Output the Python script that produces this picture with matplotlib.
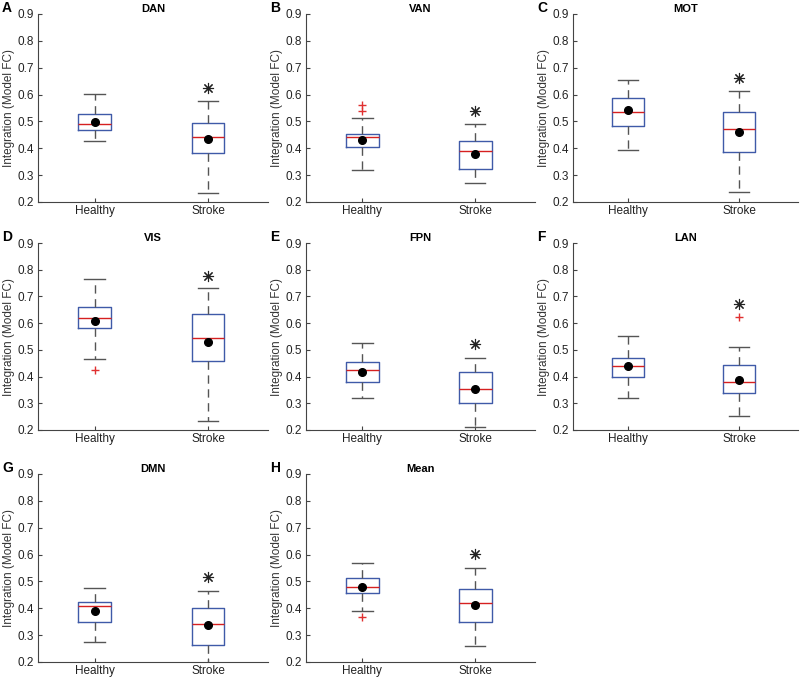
import matplotlib
matplotlib.use("Agg")
import matplotlib.pyplot as plt

plt.rcParams["font.family"] = ["Liberation Sans", "DejaVu Sans"]

networks = ["DAN", "VAN", "MOT", "VIS", "FPN", "LAN", "DMN", "Mean"]
letters = ["A", "B", "C", "D", "E", "F", "G", "H"]
groups = ["Healthy", "Stroke"]

# Healthy group box stats
healthy_lo = [0.427, 0.321, 0.394, 0.465, 0.320, 0.318, 0.273, 0.391]
healthy_q1 = [0.469, 0.403, 0.482, 0.583, 0.378, 0.399, 0.349, 0.456]
healthy_med = [0.492, 0.442, 0.536, 0.619, 0.426, 0.439, 0.410, 0.480]
healthy_q3 = [0.527, 0.454, 0.588, 0.660, 0.456, 0.470, 0.425, 0.514]
healthy_hi = [0.602, 0.511, 0.656, 0.764, 0.525, 0.553, 0.477, 0.568]
healthy_mean = [0.499, 0.432, 0.541, 0.607, 0.417, 0.439, 0.391, 0.478]
healthy_out = [[], [0.540, 0.563], [], [0.423], [], [], [], [0.367]]

# Stroke group box stats
stroke_lo = [0.233, 0.269, 0.237, 0.232, 0.210, 0.253, 0.190, 0.259]
stroke_q1 = [0.382, 0.324, 0.387, 0.457, 0.302, 0.340, 0.265, 0.349]
stroke_med = [0.443, 0.391, 0.472, 0.543, 0.354, 0.379, 0.342, 0.420]
stroke_q3 = [0.494, 0.427, 0.534, 0.636, 0.417, 0.445, 0.400, 0.473]
stroke_hi = [0.576, 0.489, 0.613, 0.732, 0.470, 0.509, 0.466, 0.550]
stroke_mean = [0.433, 0.380, 0.461, 0.531, 0.355, 0.387, 0.336, 0.413]
stroke_out = [[], [], [], [], [], [0.624], [], []]
star_y = [0.626, 0.540, 0.662, 0.778, 0.522, 0.673, 0.518, 0.602]

W, H = 800, 678
fig = plt.figure(figsize=(W / 100, H / 100), dpi=100)

# axes rectangles in pixels: left, right for columns; top, bottom for rows
cols = [(38, 268), (306, 535), (573, 798)]
rows = [(14, 202), (243, 430), (474, 662)]

axis_col = "#444444"
box_col = "#3f5aa8"

for i, name in enumerate(networks):
    r, c = divmod(i, 3)
    x0, x1 = cols[c]
    t, b = rows[r]
    ax = fig.add_axes([x0 / W, 1 - b / H, (x1 - x0) / W, (b - t) / H])

    stats = [
        dict(whislo=healthy_lo[i], q1=healthy_q1[i], med=healthy_med[i],
             q3=healthy_q3[i], whishi=healthy_hi[i], fliers=healthy_out[i]),
        dict(whislo=stroke_lo[i], q1=stroke_q1[i], med=stroke_med[i],
             q3=stroke_q3[i], whishi=stroke_hi[i], fliers=stroke_out[i]),
    ]
    ax.bxp(stats, positions=[1, 2], widths=0.29, capwidths=0.18,
           showfliers=True,
           boxprops=dict(color=box_col, linewidth=1.0),
           medianprops=dict(color="#d62020", linewidth=1.0),
           whiskerprops=dict(color="#555555", linewidth=1.0, linestyle=(0, (6, 4))),
           capprops=dict(color="#555555", linewidth=1.0),
           flierprops=dict(marker="+", markeredgecolor="#e03030", markersize=6,
                           linestyle="none"))

    ax.plot([1, 2], [healthy_mean[i], stroke_mean[i]], "o", color="black",
            markersize=5.5, linestyle="none", zorder=5)
    ax.plot(2, star_y[i], marker=(8, 2, 0), color="#222222", markersize=8,
            markeredgewidth=0.8, linestyle="none")

    ax.set_xlim(0.5, 2.53)
    ax.set_ylim(0.2, 0.9)
    ax.set_yticks([0.2, 0.3, 0.4, 0.5, 0.6, 0.7, 0.8, 0.9])
    ax.set_yticklabels(["0.2", "0.3", "0.4", "0.5", "0.6", "0.7", "0.8", "0.9"])
    ax.set_xticks([1, 2])
    ax.set_xticklabels(groups)
    ax.tick_params(direction="in", length=3, labelsize=8.5, colors=axis_col,
                   labelcolor="#222222")
    ax.tick_params(axis="x", pad=2)
    ax.tick_params(axis="y", pad=3)
    for s in ["top", "right"]:
        ax.spines[s].set_visible(False)
    for s in ["left", "bottom"]:
        ax.spines[s].set_color(axis_col)
        ax.spines[s].set_linewidth(0.8)

    ax.set_ylabel("Integration (Model FC)", fontsize=8.5, color="#333333", labelpad=2)
    ax.set_title(name, fontsize=8, fontweight="bold", pad=1)
    fig.text((x0 - 36) / W, 1 - (t - 6) / H, letters[i], fontsize=10,
             fontweight="bold", va="center", ha="left")

fig.savefig("out.png", dpi=100)
